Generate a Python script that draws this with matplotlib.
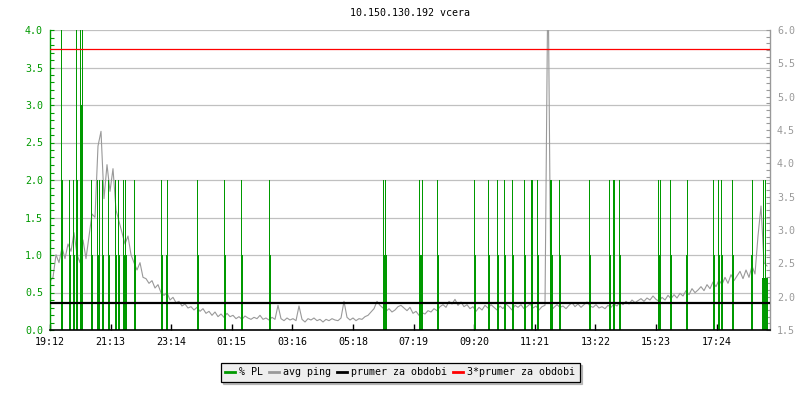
import matplotlib
matplotlib.use("Agg")
import matplotlib.pyplot as plt
from matplotlib.lines import Line2D
from matplotlib.ticker import MultipleLocator, FixedLocator

# --- DATA (minutes since 19:12)
tick_labels = ["19:12", "21:13", "23:14", "01:15", "03:16", "05:18",
               "07:19", "09:20", "11:21", "13:22", "15:23", "17:24"]
tick_step = 121.2

# avg ping, one sample every 6 minutes (ms)
ping = [
    2.23, 2.29, 2.63, 2.51, 2.74, 2.57, 2.79, 2.68, 2.96, 2.63,
    2.51, 2.85, 2.57, 2.91, 3.24, 3.19, 4.26, 4.48, 3.47, 3.98,
    3.58, 3.92, 3.30, 3.13, 2.96, 2.79, 2.91, 2.63, 2.51, 2.40,
    2.51, 2.29, 2.27, 2.20, 2.24, 2.13, 2.18, 2.06, 2.02, 2.06,
    1.95, 1.99, 1.91, 1.93, 1.86, 1.89, 1.83, 1.85, 1.80, 1.84,
    1.78, 1.82, 1.75, 1.78, 1.72, 1.77, 1.70, 1.74, 1.69, 1.75,
    1.70, 1.72, 1.67, 1.70, 1.66, 1.71, 1.68, 1.66, 1.69, 1.67,
    1.72, 1.66, 1.68, 1.65, 1.69, 1.66, 1.87, 1.67, 1.64, 1.68,
    1.65, 1.67, 1.64, 1.86, 1.66, 1.62, 1.67, 1.65, 1.68, 1.64,
    1.66, 1.62, 1.66, 1.64, 1.67, 1.65, 1.64, 1.68, 1.93, 1.69,
    1.65, 1.68, 1.64, 1.67, 1.66, 1.70, 1.72, 1.77, 1.82, 1.93,
    1.87, 1.83, 1.78, 1.82, 1.77, 1.80, 1.85, 1.87, 1.83, 1.79,
    1.84, 1.75, 1.78, 1.72, 1.76, 1.74, 1.79, 1.77, 1.82, 1.79,
    1.85, 1.88, 1.84, 1.93, 1.89, 1.96, 1.87, 1.92, 1.85, 1.88,
    1.82, 1.85, 1.78, 1.84, 1.80, 1.87, 1.83, 1.88, 1.84, 1.80,
    1.86, 1.82, 1.89, 1.85, 1.80, 1.87, 1.84, 1.88, 1.82, 1.85,
    1.89, 1.83, 1.86, 1.80, 1.85, 1.87, 7.00, 1.79, 1.84, 1.88,
    1.84, 1.86, 1.82, 1.87, 1.91, 1.85, 1.89, 1.84, 1.88, 1.92,
    1.86, 1.84, 1.88, 1.83, 1.85, 1.82, 1.87, 1.84, 1.89, 1.86,
    1.92, 1.88, 1.93, 1.89, 1.95, 1.91, 1.94, 1.97, 1.93, 1.98,
    1.95, 2.01, 1.96, 1.93, 1.99, 1.95, 2.02, 1.97, 2.03, 1.98,
    2.05, 2.01, 2.09, 2.03, 2.12, 2.06, 2.10, 2.15, 2.09, 2.18,
    2.12, 2.22, 2.15, 2.25, 2.18, 2.29, 2.20, 2.33, 2.24, 2.31,
    2.38, 2.27, 2.40, 2.29, 2.46, 2.34, 2.91, 3.36, 2.51, 2.46,
]
ping_t = [6 * i for i in range(len(ping))]

# packet loss samples (minute, %)
pl_t = [20, 22, 36, 38, 44, 46, 50, 52, 58, 60, 62, 80, 82, 92, 94, 96,
        102, 104, 114, 116, 128, 130, 134, 136, 144, 146, 148, 150, 166, 168,
        220, 222, 230, 232, 292, 294, 346, 348, 380, 382, 436, 438,
        664, 666, 668, 670, 736, 738, 740, 742, 772, 774, 846, 848,
        874, 876, 892, 894, 906, 908, 922, 924, 946, 948, 960, 962,
        972, 974, 998, 1000, 1002, 1016, 1018, 1076, 1078, 1116, 1118,
        1124, 1126, 1136, 1138, 1214, 1216, 1218, 1238, 1240, 1270, 1272,
        1324, 1326, 1334, 1336, 1340, 1342, 1362, 1364, 1400, 1402,
        1422, 1424, 1426, 1428, 1430, 1432]
pl_v = [4.5, 2.0, 2.0, 1.0, 2.0, 1.0, 4.5, 2.0, 4.5, 3.0, 4.5, 2.0, 1.0, 2.0, 1.0, 2.0,
        2.0, 1.0, 2.0, 1.0, 2.0, 1.0, 2.0, 1.0, 2.0, 1.0, 2.0, 1.0, 2.0, 1.0,
        2.0, 1.0, 1.0, 2.0, 2.0, 1.0, 2.0, 1.0, 2.0, 1.0, 2.0, 1.0,
        2.0, 1.0, 2.0, 1.0, 2.0, 1.0, 1.0, 2.0, 2.0, 1.0, 2.0, 1.0,
        2.0, 1.0, 2.0, 1.0, 2.0, 1.0, 2.0, 1.0, 2.0, 1.0, 2.0, 2.0,
        2.0, 1.0, 2.0, 2.0, 1.0, 2.0, 1.0, 2.0, 1.0, 2.0, 1.0,
        2.0, 2.0, 2.0, 1.0, 2.0, 1.0, 2.0, 2.0, 1.0, 1.0, 2.0,
        2.0, 1.0, 2.0, 1.0, 2.0, 1.0, 2.0, 1.0, 1.0, 2.0,
        0.7, 2.0, 0.7, 2.0, 0.7, 0.7]

avg_ping = 1.905

GREEN = "#009900"
GRAY = "#999999"
GRID = "#c0c0c0"

plt.rcParams['font.family'] = ['DejaVu Sans Mono']
plt.rcParams['font.size'] = 7.2

fig = plt.figure(figsize=(8, 4), dpi=100)
rect = [50 / 800, 70 / 400, 720 / 800, 300 / 400]

# bottom layer: ping axis (right)
ax_ping = fig.add_axes(rect, zorder=1)
# middle: packet loss (left)
ax_pl = fig.add_axes(rect, zorder=2, sharex=ax_ping)
ax_pl.patch.set_visible(False)
# top: average lines on ping scale
ax_lines = fig.add_axes(rect, zorder=3, sharex=ax_ping)
ax_lines.patch.set_visible(False)

ax_ping.plot(ping_t, ping, color=GRAY, lw=0.8)
ax_pl.vlines([t + 1 for t in pl_t], 0, pl_v, colors=GREEN, lw=0.5, antialiased=False)
ax_lines.axhline(avg_ping, color='black', lw=1.6)
ax_lines.axhline(3 * avg_ping, color='#ff0000', lw=0.9)

ax_ping.set_xlim(0, 1440)
for a in (ax_ping, ax_lines):
    a.set_ylim(1.5, 6.0)
ax_pl.set_ylim(0, 4.0)

# horizontal grid (on bottom axis so it stays under the data)
for k in range(1, 9):
    ax_ping.axhline(1.5 + k * 0.5 * 4.5 / 4.0, color=GRID, lw=0.9, zorder=0)

# ping axis on the right
ax_ping.yaxis.tick_right()
ax_ping.yaxis.set_major_locator(MultipleLocator(0.5))
ax_ping.yaxis.set_minor_locator(MultipleLocator(0.1))
ax_ping.yaxis.set_major_formatter(lambda v, p: f"{v:.1f}")
ax_ping.tick_params(axis='y', which='both', direction='in', length=3, width=0.8,
                    color=GRAY, labelcolor=GRAY, pad=5, right=True, left=False)
ax_ping.tick_params(axis='x', bottom=False, labelbottom=False)
for s in ('left', 'top', 'bottom'):
    ax_ping.spines[s].set_visible(False)
ax_ping.spines['right'].set_color(GRAY)
ax_ping.spines['right'].set_linewidth(1.0)

# packet loss axis on the left + time axis
ax_pl.yaxis.set_major_locator(MultipleLocator(0.5))
ax_pl.yaxis.set_minor_locator(MultipleLocator(0.1))
ax_pl.yaxis.set_major_formatter(lambda v, p: f"{v:.1f}")
ax_pl.tick_params(axis='y', which='both', direction='in', length=3, width=0.8,
                  color=GREEN, labelcolor=GREEN, pad=5)
ax_pl.xaxis.set_major_locator(FixedLocator([k * tick_step for k in range(len(tick_labels))]))
ax_pl.set_xticklabels(tick_labels)
ax_pl.tick_params(axis='x', direction='in', length=4, width=1.0, color='black', pad=5)
ax_pl.spines['left'].set_color(GREEN)
ax_pl.spines['left'].set_linewidth(1.0)
ax_pl.spines['bottom'].set_linewidth(1.2)
ax_pl.spines['top'].set_visible(False)
ax_pl.spines['right'].set_visible(False)

ax_lines.axis('off')

fig.text(rect[0] + rect[2] / 2, 1 - 13 / 400, "10.150.130.192 vcera",
         ha='center', va='center')

handles = [Line2D([], [], color=GREEN, lw=2),
           Line2D([], [], color=GRAY, lw=2),
           Line2D([], [], color='black', lw=2),
           Line2D([], [], color='#ff0000', lw=2)]
labels = ["% PL", "avg ping", "prumer za obdobi", "3*prumer za obdobi"]
leg = fig.legend(handles, labels, loc='center', bbox_to_anchor=(0.5, 1 - 372 / 400),
                 ncol=4, frameon=True, fancybox=False, shadow={'color': '#888888'},
                 edgecolor='black', facecolor='#eeeeee', framealpha=1,
                 handlelength=1.0, handletextpad=0.4, columnspacing=0.6,
                 borderpad=0.45, borderaxespad=0)
leg.get_frame().set_linewidth(0.9)

fig.savefig("out.png", dpi=100)
